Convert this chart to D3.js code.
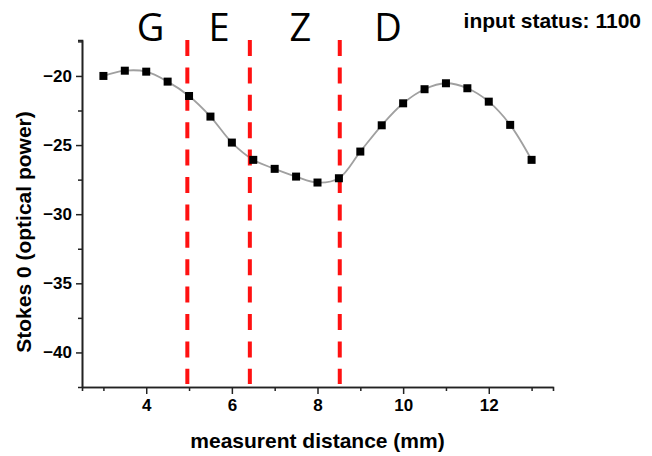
<!DOCTYPE html>
<html>
<head>
<meta charset="utf-8">
<script src="https://cdn.jsdelivr.net/npm/d3@7"></script>
<style>
  html, body { margin: 0; padding: 0; background: #fff; }
  svg { display: block; }
</style>
</head>
<body>
<svg id="chart" width="652" height="456"></svg>
<script>
// Measured Stokes 0 along the sample
const distance = [3, 3.5, 4, 4.5, 5, 5.5, 6, 6.5, 7, 7.5, 8, 8.5, 9, 9.5, 10, 10.5, 11, 11.5, 12, 12.5, 13];
const stokes0 = [-20.0, -19.62, -19.69, -20.41, -21.45, -22.94, -24.82, -26.07, -26.72, -27.28, -27.71, -27.4,
                 -25.47, -23.57, -21.98, -20.96, -20.53, -20.89, -21.86, -23.54, -26.07];

// Region boundaries and their labels
const boundaries = [4.96, 6.42, 8.52];
const regionNames = ["G", "E", "Z", "D"];
const regionNameX = [4.1, 5.7, 7.6, 9.65];

const xTicks = [4, 6, 8, 10, 12];
const xMinorTicks = [3, 5, 7, 9, 11, 13];
const yTicks = [-20, -25, -30, -35, -40];
const yMinorTicks = [-17.5, -22.5, -27.5, -32.5, -37.5];

const statusText = "input status: 1100";
const xTitle = "measurent distance (mm)";
const yTitle = "Stokes 0 (optical power)";

(function () {
  const svg = d3.select("#chart");
  const plotL = 82, plotR = 553, plotT = 40, plotB = 387;

  const x = d3.scaleLinear().domain([2.5, 13.5]).range([plotL, plotR]);
  const y = d3.scaleLinear().domain([-42.5, -17.4]).range([plotB, plotT]);

  const boldFont = "'Liberation Sans', Arial, sans-serif";

  // Axes
  function styleAxis(g) {
    g.selectAll("path.domain").attr("stroke", "#222").attr("stroke-width", 1.6);
    g.selectAll(".tick line").attr("stroke", "#222").attr("stroke-width", 1.5);
    g.selectAll(".tick text").attr("font-family", boldFont).attr("font-weight", "bold")
      .attr("font-size", 17).attr("fill", "#000");
  }

  svg.append("g").attr("transform", `translate(0,${plotB})`)
    .call(d3.axisBottom(x).tickValues(xMinorTicks).tickSize(4).tickFormat(""))
    .call(styleAxis);
  svg.append("g").attr("transform", `translate(0,${plotB})`)
    .call(d3.axisBottom(x).tickValues(xTicks).tickSize(7).tickSizeOuter(0).tickPadding(5).tickFormat(d3.format("d")))
    .call(styleAxis);

  svg.append("g").attr("transform", `translate(${plotL},0)`)
    .call(d3.axisLeft(y).tickValues(yMinorTicks).tickSize(4).tickFormat(""))
    .call(styleAxis);
  svg.append("g").attr("transform", `translate(${plotL},0)`)
    .call(d3.axisLeft(y).tickValues(yTicks).tickSize(6).tickSizeOuter(0).tickPadding(4).tickFormat(d3.format("d")))
    .call(styleAxis);

  // Data curve
  const pts = distance.map((d, i) => [d, stokes0[i]]);
  svg.append("path")
    .datum(pts)
    .attr("fill", "none")
    .attr("stroke", "#a0a0a0")
    .attr("stroke-width", 1.8)
    .attr("d", d3.line().x(d => x(d[0])).y(d => y(d[1])).curve(d3.curveCatmullRom.alpha(0.5)));

  // Region boundaries
  svg.selectAll("line.boundary")
    .data(boundaries)
    .join("line")
    .attr("class", "boundary")
    .attr("x1", d => x(d)).attr("x2", d => x(d))
    .attr("y1", plotT).attr("y2", plotB - 3)
    .attr("stroke", "#ff1111")
    .attr("stroke-width", 4)
    .attr("stroke-dasharray", "16 11.4");

  // Markers
  const ms = 8;
  svg.selectAll("rect.pt")
    .data(pts)
    .join("rect")
    .attr("class", "pt")
    .attr("x", d => x(d[0]) - ms / 2)
    .attr("y", d => y(d[1]) - ms / 2)
    .attr("width", ms).attr("height", ms)
    .attr("fill", "#000");

  // Region names
  svg.selectAll("text.region")
    .data(regionNames)
    .join("text")
    .attr("class", "region")
    .attr("x", (d, i) => x(regionNameX[i]))
    .attr("y", 41)
    .attr("text-anchor", "middle")
    .attr("font-family", "'Open Sans', sans-serif")
    .attr("font-size", 38)
    .attr("fill", "#000")
    .text(d => d);

  // Status text
  svg.append("text")
    .attr("x", 641).attr("y", 28)
    .attr("text-anchor", "end")
    .attr("font-family", boldFont).attr("font-weight", "bold").attr("font-size", 21)
    .text(statusText);

  // Axis titles
  svg.append("text")
    .attr("x", (plotL + plotR) / 2).attr("y", 448)
    .attr("text-anchor", "middle")
    .attr("font-family", boldFont).attr("font-weight", "bold").attr("font-size", 21)
    .text(xTitle);

  svg.append("text")
    .attr("transform", "translate(31,232) rotate(-90)")
    .attr("text-anchor", "middle")
    .attr("font-family", boldFont).attr("font-weight", "bold").attr("font-size", 21)
    .text(yTitle);
})();
</script>
</body>
</html>
